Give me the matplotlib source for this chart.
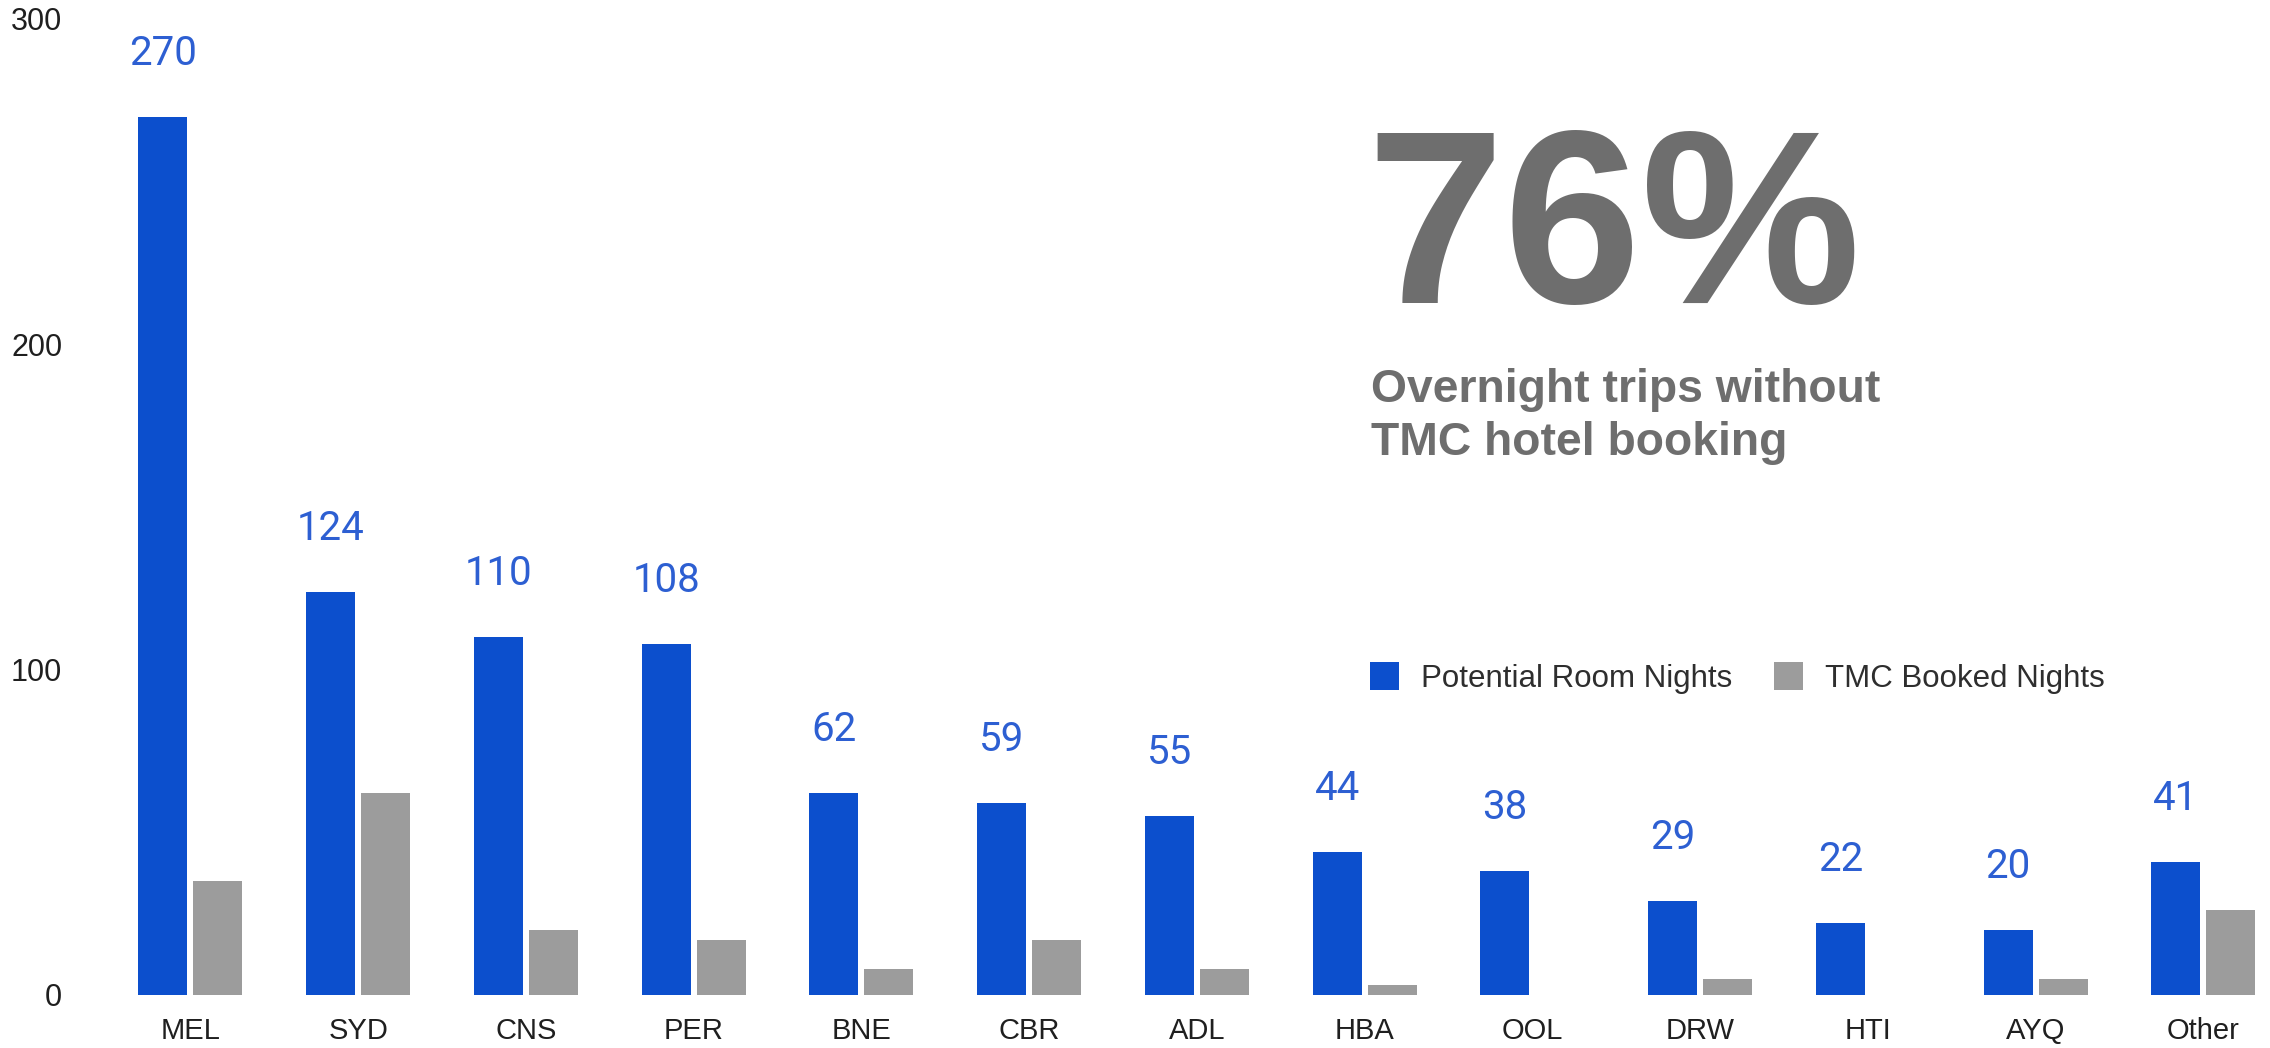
import matplotlib
matplotlib.use("Agg")
import matplotlib.pyplot as plt
import numpy as np

categories = ["MEL", "SYD", "CNS", "PER", "BNE", "CBR", "ADL", "HBA", "OOL", "DRW", "HTI", "AYQ", "Other"]
potential_nights = [270, 124, 110, 108, 62, 59, 55, 44, 38, 29, 22, 20, 41]
tmc_booked = [35, 62, 20, 17, 8, 17, 8, 3, 0, 5, 0, 5, 26]
y_ticks = [0, 100, 200, 300]
headline = "76%"
subtitle_lines = ["Overnight trips without", "TMC hotel booking"]
series_names = ["Potential Room Nights", "TMC Booked Nights"]

BLUE = "#0c4fcd"
LABEL_BLUE = "#2d5fd2"
GRAY = "#9c9c9c"
TEXT_GRAY = "#6e6e6e"
DARK = "#1f1f1f"

W, H = 2270, 1048
fig = plt.figure(figsize=(W / 100, H / 100), dpi=100)
fig.patch.set_facecolor("white")

ax = fig.add_axes([90 / W, 53 / H, 2180 / W, 976 / H])
x = np.arange(len(categories))
bw = 0.292
off = 0.164
ax.bar(x - off, potential_nights, bw, color=BLUE, label=series_names[0], zorder=2)
ax.bar(x + off, tmc_booked, bw, color=GRAY, label=series_names[1], zorder=2)

for xi, v in zip(x, potential_nights):
    ax.annotate(str(v), (xi - off, v), xytext=(0, 37.5), textcoords="offset points",
                ha="center", va="baseline", fontsize=29, color=LABEL_BLUE,
                family=["Roboto", "DejaVu Sans"])

ax.set_xlim(-0.599, 12.397)
ax.set_ylim(0, 300)
ax.set_yticks(y_ticks)
ax.set_yticklabels([str(t) for t in y_ticks], fontsize=22, color=DARK,
                   family=["Liberation Sans", "DejaVu Sans"])
ax.set_xticks(x)
ax.set_xticklabels(categories, fontsize=21, color=DARK,
                   family=["Liberation Sans", "DejaVu Sans"])
ax.tick_params(axis="y", length=0, pad=20)
ax.tick_params(axis="x", length=0, pad=16)
for s in ax.spines.values():
    s.set_visible(False)
ax.set_facecolor("white")

leg = ax.legend(loc="center left", bbox_to_anchor=(1370 / W, (H - 678) / H),
                bbox_transform=fig.transFigure, ncol=2, frameon=False,
                prop={"family": "Liberation Sans", "size": 22.5},
                handlelength=0.93, handleheight=0.97, handletextpad=0.7,
                columnspacing=1.35, borderpad=0, borderaxespad=0)
for t in leg.get_texts():
    t.set_color("#2e2e2e")

fig.text(1366 / W, (H - 303) / H, headline, ha="left", va="baseline",
         fontsize=178, fontweight="bold", color=TEXT_GRAY,
         family=["Liberation Sans", "DejaVu Sans"])
fig.text(1371 / W, (H - 402) / H, subtitle_lines[0], ha="left", va="baseline",
         fontsize=33.3, fontweight="bold", color=TEXT_GRAY,
         family=["Liberation Sans", "DejaVu Sans"])
fig.text(1371 / W, (H - 455) / H, subtitle_lines[1], ha="left", va="baseline",
         fontsize=33.3, fontweight="bold", color=TEXT_GRAY,
         family=["Liberation Sans", "DejaVu Sans"])

fig.savefig("out.png", dpi=100, facecolor="white")
